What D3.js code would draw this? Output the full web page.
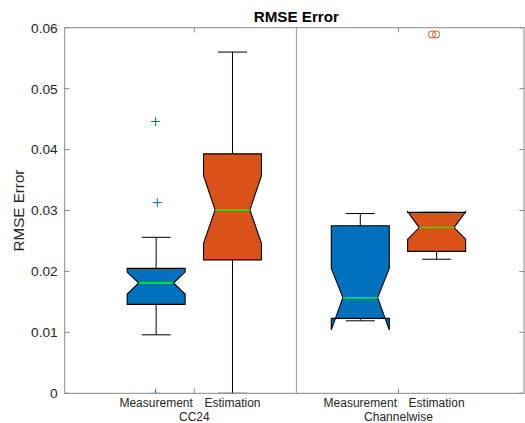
<!DOCTYPE html>
<html>
<head>
<meta charset="utf-8">
<script src="https://cdn.jsdelivr.net/npm/d3@7"></script>
<style>
  body { margin: 0; background: #fff; }
  text { font-family: "Liberation Sans", Arial, sans-serif; }
</style>
</head>
<body>
<div id="container"></div>
<script>
/* CONSTANTS AND GLOBALS */
const width = 525,
  height = 423,
  margin = {top: 27.7, bottom: 29.7, left: 64.7, right: 1};

/* DATA */
const groups = ["CC24", "Channelwise"];
const series = ["Measurement", "Estimation"];
const colors = ["#0072BD", "#D95319"];
// one value per box: CC24-Meas, CC24-Est, Chan-Meas, Chan-Est
const whiskerLo = [0.0096, 0.0000, 0.0119, 0.0220];
const q1        = [0.0146, 0.0219, 0.0123, 0.0233];
const notchLo   = [0.0163, 0.0246, 0.0104, 0.0253];
const medians   = [0.0181, 0.0301, 0.0157, 0.0272];
const notchHi   = [0.0199, 0.0357, 0.0205, 0.0298];
const q3        = [0.0205, 0.0393, 0.0275, 0.0297];
const whiskerHi = [0.0256, 0.0560, 0.0295, 0.0297];
// outliers: box index, value, small horizontal jitter (in box widths)
const outlierBox = [0, 0, 0, 3, 3];
const outlierVal = [0.0446, 0.0313, 0.0000, 0.0589, 0.0589];
const outlierJit = [-0.01, 0.02, -0.01, -0.08, -0.01];
const yTicks = [0, 0.01, 0.02, 0.03, 0.04, 0.05, 0.06];

const boxes = d3.range(4).map(i => ({
  i,
  group: Math.floor(i / 2),
  serie: i % 2,
  wlo: whiskerLo[i], q1: q1[i], nlo: notchLo[i], med: medians[i],
  nhi: notchHi[i], q3: q3[i], whi: whiskerHi[i]
}));

/* SCALES */
const xScale = d3.scaleLinear()
  .domain([0.365, 2.615])
  .range([margin.left, width - margin.right]);

const yScale = d3.scaleLinear()
  .domain([0, 0.06])
  .range([height - margin.bottom, margin.top]);

const offset = 0.187, boxW = 0.284; // in x units
const cx = d => xScale(d.group + 1 + (d.serie === 0 ? -offset : offset));
const halfW = (xScale(boxW) - xScale(0)) / 2;
const notchIn = halfW * 0.4;
const capHalf = halfW / 2;

/* HTML ELEMENTS */
const svg = d3.select("#container")
  .append("svg")
  .attr("width", width)
  .attr("height", height);

svg.append("defs").append("clipPath").attr("id", "plot")
  .append("rect")
  .attr("x", margin.left).attr("y", margin.top)
  .attr("width", width - margin.right - margin.left)
  .attr("height", height - margin.bottom - margin.top);

const x0 = margin.left, x1 = width - margin.right,
  y0 = height - margin.bottom, y1 = margin.top;

// separator between groups
svg.append("line")
  .attr("x1", xScale(1.5)).attr("x2", xScale(1.5))
  .attr("y1", y1).attr("y2", y0)
  .attr("stroke", "#999").attr("stroke-width", 1);

const plot = svg.append("g").attr("clip-path", "url(#plot)");

// whiskers
const bx = plot.selectAll("g.box")
  .data(boxes)
  .join("g")
  .attr("class", "box");

bx.append("line")
  .attr("x1", cx).attr("x2", cx)
  .attr("y1", d => yScale(d.q3)).attr("y2", d => yScale(d.whi))
  .attr("stroke", "#000");
bx.append("line")
  .attr("x1", cx).attr("x2", cx)
  .attr("y1", d => yScale(d.q1)).attr("y2", d => yScale(d.wlo))
  .attr("stroke", "#000");
bx.append("line")
  .attr("x1", d => cx(d) - capHalf).attr("x2", d => cx(d) + capHalf)
  .attr("y1", d => yScale(d.whi)).attr("y2", d => yScale(d.whi))
  .attr("stroke", "#000");
bx.append("line")
  .attr("x1", d => cx(d) - capHalf).attr("x2", d => cx(d) + capHalf)
  .attr("y1", d => yScale(d.wlo)).attr("y2", d => yScale(d.wlo))
  .attr("stroke", "#000");

// notched boxes
bx.append("path")
  .attr("d", d => {
    const l = cx(d) - halfW, r = cx(d) + halfW;
    const pts = [
      [l, d.q1], [l, d.nlo], [l + notchIn, d.med], [l, d.nhi], [l, d.q3],
      [r, d.q3], [r, d.nhi], [r - notchIn, d.med], [r, d.nlo], [r, d.q1]
    ];
    return d3.line()(pts.map(p => [p[0], yScale(p[1])])) + "Z";
  })
  .attr("fill", d => colors[d.serie])
  .attr("stroke", "#000")
  .attr("stroke-width", 1.1)
  .attr("stroke-linejoin", "miter");

bx.append("line")
  .attr("x1", d => cx(d) - halfW + notchIn).attr("x2", d => cx(d) + halfW - notchIn)
  .attr("y1", d => yScale(d.med)).attr("y2", d => yScale(d.med))
  .attr("stroke", "#00ff00").attr("stroke-width", 1.5);

// outliers
outlierBox.forEach((b, k) => {
  const d = boxes[b];
  const x = cx(d) + outlierJit[k] * halfW * 2;
  const y = yScale(outlierVal[k]);
  if (d.group === 0) {
    plot.append("path")
      .attr("d", `M${x - 4.5},${y}H${x + 4.5}M${x},${y - 4.5}V${y + 4.5}`)
      .attr("stroke", colors[d.serie]).attr("stroke-width", 1).attr("fill", "none");
  } else {
    plot.append("circle")
      .attr("cx", x).attr("cy", y).attr("r", 3.6)
      .attr("stroke", colors[d.serie]).attr("stroke-width", 1).attr("fill", "none");
  }
});

// axes box and ticks
const axisColor = "#888";
svg.append("rect")
  .attr("x", x0).attr("y", y1)
  .attr("width", x1 - x0).attr("height", y0 - y1)
  .attr("fill", "none").attr("stroke", axisColor).attr("stroke-width", 1);

const tl = 4.7;
svg.selectAll("path.ytick")
  .data(yTicks)
  .join("path")
  .attr("class", "ytick")
  .attr("d", v => `M${x0},${yScale(v)}h${tl}M${x1},${yScale(v)}h${-tl}`)
  .attr("stroke", axisColor);

svg.selectAll("text.ylab")
  .data(yTicks)
  .join("text")
  .attr("class", "ylab")
  .attr("x", x0 - 7)
  .attr("y", v => yScale(v))
  .attr("dy", "0.36em")
  .attr("text-anchor", "end")
  .attr("font-size", 13.7)
  .attr("fill", "#262626")
  .text(v => v === 0 ? "0" : d3.format(".2f")(v));

svg.selectAll("path.xtick")
  .data(groups)
  .join("path")
  .attr("class", "xtick")
  .attr("d", (g, i) => `M${xScale(i + 1)},${y0}v${-tl}M${xScale(i + 1)},${y1}v${tl}`)
  .attr("stroke", axisColor);

// x labels
svg.selectAll("text.serie")
  .data(boxes)
  .join("text")
  .attr("class", "serie")
  .attr("x", cx)
  .attr("y", 406.7)
  .attr("text-anchor", "middle")
  .attr("font-size", 12)
  .attr("fill", "#262626")
  .text(d => series[d.serie]);

svg.selectAll("text.group")
  .data(groups)
  .join("text")
  .attr("class", "group")
  .attr("x", (g, i) => xScale(i + 1))
  .attr("y", 421)
  .attr("text-anchor", "middle")
  .attr("font-size", 12)
  .attr("fill", "#262626")
  .text(g => g);

// title and y label
svg.append("text")
  .attr("x", (x0 + x1) / 2 + 2)
  .attr("y", 21.7)
  .attr("text-anchor", "middle")
  .attr("font-size", 15.2)
  .attr("font-weight", "bold")
  .attr("fill", "#000")
  .text("RMSE Error");

svg.append("text")
  .attr("transform", `translate(${24},${(y0 + y1) / 2}) rotate(-90)`)
  .attr("text-anchor", "middle")
  .attr("font-size", 15.2)
  .attr("fill", "#262626")
  .text("RMSE Error");
</script>
</body>
</html>
